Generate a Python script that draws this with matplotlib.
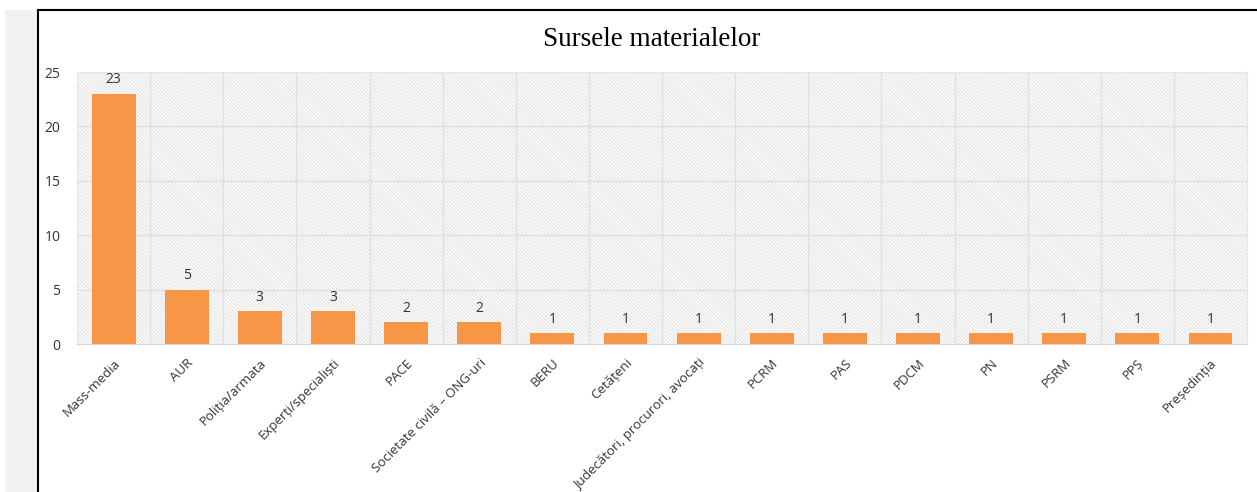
import matplotlib
matplotlib.use("Agg")
import matplotlib.pyplot as plt
from matplotlib.patches import Rectangle
from matplotlib.lines import Line2D
import matplotlib as mpl

categories = ["Mass-media", "AUR", "Poliția/armata", "Experți/specialiști", "PACE",
              "Societate civilă – ONG-uri", "BERU", "Cetățeni",
              "Judecători, procurori, avocați", "PCRM", "PAS", "PDCM", "PN",
              "PSRM", "PPȘ", "Președinția"]
values = [23, 5, 3, 3, 2, 2, 1, 1, 1, 1, 1, 1, 1, 1, 1, 1]
yticks = [0, 5, 10, 15, 20, 25]
title = "Sursele materialelor"

W, H = 1257, 492
fig = plt.figure(figsize=(W/100, H/100), dpi=100)
fig.patch.set_facecolor("white")

# left gray strip and frame
fig.add_artist(Rectangle((5/W, 0), 33/W, 1 - 10/H, transform=fig.transFigure,
                         facecolor="#f2f2f2", edgecolor="none", zorder=0))
fig.add_artist(Line2D([38/W, 38/W], [0, 1 - 10/H], transform=fig.transFigure,
                      color="black", lw=1.5))
fig.add_artist(Line2D([38/W, 1], [1 - 10/H, 1 - 10/H], transform=fig.transFigure,
                      color="black", lw=1.5))

left, right, top, bottom = 77, 1247, 72, 344
ax = fig.add_axes([left/W, 1 - bottom/H, (right-left)/W, (bottom-top)/H])
mpl.rcParams['hatch.color'] = "#e6e6e6"
mpl.rcParams['hatch.linewidth'] = 0.4
ax.patch.set_facecolor("white")
ax.patch.set_hatch("\\" * 9)
ax.patch.set_edgecolor("#e6e6e6")

n = len(categories)
x = list(range(n))
bars = ax.bar(x, values, width=0.6, color="#f79646", zorder=3)
for xi, v in zip(x, values):
    ax.text(xi, v + 0.6, str(v), ha="center", va="bottom", fontsize=10,
            family="Open Sans", color="#333333", zorder=4)

ax.set_xlim(-0.5, n - 0.5)
ax.set_ylim(0, 25)
ax.set_yticks(yticks)
ax.set_yticklabels([str(t) for t in yticks], family="Open Sans", fontsize=10, color="#333333")
ax.set_xticks(x)
ax.set_xticklabels(categories, rotation=45, ha="right", rotation_mode="anchor",
                   family="Open Sans", fontsize=9.5, color="#333333")
ax.tick_params(axis="both", length=0)
ax.tick_params(axis="x", pad=9)
ax.tick_params(axis="y", pad=12)

for t in yticks[1:]:
    ax.axhline(t, color="#e0e0e0", lw=1, zorder=1)
for b in range(1, n):
    ax.axvline(b - 0.5, color="#e0e0e0", lw=1, zorder=1)
for s in ["top", "right", "left"]:
    ax.spines[s].set_color("#e6e6e6")
ax.spines["bottom"].set_color("#d9d9d9")

fig.text(652/W, 1 - 40/H, title, ha="center", va="center",
         fontsize=19.5, family="Liberation Serif", color="black")

fig.savefig("out.png", dpi=100)
